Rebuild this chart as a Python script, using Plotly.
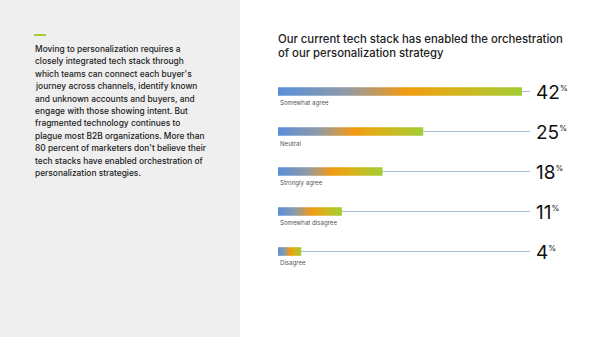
import plotly.graph_objects as go

categories = ["Somewhat agree", "Neutral", "Strongly agree", "Somewhat disagree", "Disagree"]
values = [42, 25, 18, 11, 4]
title_lines = ["Our current tech stack has enabled the orchestration", "of our personalization strategy"]
body_lines = [
    "Moving to personalization requires a",
    "closely integrated tech stack through",
    "which teams can connect each buyer's",
    "journey across channels, identify known",
    "and unknown accounts and buyers, and",
    "engage with those showing intent. But",
    "fragmented technology continues to",
    "plague most B2B organizations. More than",
    "80 percent of marketers don't believe their",
    "tech stacks have enabled orchestration of",
    "personalization strategies.",
]

W, H = 600, 337
X0_PX = 278.0
PX_PER_PCT = 244.0 / 42.0
Y0_PX = 91.5
ROW_PX = 40.0
LINE_END = (530 - X0_PX) / PX_PER_PCT
LABEL_X = (534 - X0_PX) / PX_PER_PCT
BAR_HALF = 0.108

gradient = [
    [0.0, "#5a8fdc"],
    [0.28, "#8f9aa6"],
    [0.52, "#f29a12"],
    [0.72, "#d7b31c"],
    [1.0, "#a2cd35"],
]

fig = go.Figure()

for i, (c, v) in enumerate(zip(categories, values)):
    fig.add_trace(go.Scatter(
        x=[v, LINE_END], y=[i, i], mode="lines",
        line=dict(color="#a6b9d2", width=1), hoverinfo="skip", showlegend=False))
    fig.add_trace(go.Scatter(
        x=[0, v, v, 0, 0], y=[i - BAR_HALF, i - BAR_HALF, i + BAR_HALF, i + BAR_HALF, i - BAR_HALF],
        mode="lines", line=dict(width=0), fill="toself",
        fillgradient=dict(type="horizontal", colorscale=gradient),
        hoverinfo="skip", showlegend=False))
    fig.add_annotation(x=0, y=i + 0.29, xref="x", yref="y", text=c, showarrow=False,
                       xanchor="left", yanchor="middle",
                       font=dict(family="Inter", size=6.1, color="#555555"))
    fig.add_annotation(x=LABEL_X, y=i + 0.02, xref="x", yref="y",
                       text=f"{v}<sup><span style='font-size:8px'>%</span></sup>",
                       showarrow=False, xanchor="left", yanchor="middle",
                       font=dict(family="Inter", size=19, color="#111111"))

# left panel
fig.add_shape(type="rect", xref="paper", yref="paper", x0=0, x1=240 / W, y0=0, y1=1,
              fillcolor="#efefef", line=dict(width=0), layer="below")
fig.add_shape(type="line", xref="paper", yref="paper", x0=34 / W, x1=46 / W,
              y0=1 - 35 / H, y1=1 - 35 / H, line=dict(color="#a6cf3a", width=2))

for k, line in enumerate(body_lines):
    fig.add_annotation(x=33 / W, y=1 - (49 + 12.4 * k) / H, xref="paper", yref="paper",
                       text=line, showarrow=False, align="left",
                       xanchor="left", yanchor="middle",
                       font=dict(family="Inter", size=8.4, color="#222222", weight=500))

for k, line in enumerate(title_lines):
    fig.add_annotation(x=276 / W, y=1 - (39 + 14.5 * k) / H, xref="paper", yref="paper",
                       text=line, showarrow=False, align="left",
                       xanchor="left", yanchor="middle",
                       font=dict(family="Inter", size=11.3, color="#222222", weight=500))

fig.update_layout(
    width=W, height=H, margin=dict(l=0, r=0, t=0, b=0),
    paper_bgcolor="white", plot_bgcolor="rgba(0,0,0,0)",
    xaxis=dict(range=[-X0_PX / PX_PER_PCT, (W - X0_PX) / PX_PER_PCT], visible=False, fixedrange=True),
    yaxis=dict(range=[(H - Y0_PX) / ROW_PX, -Y0_PX / ROW_PX], visible=False, fixedrange=True),
    showlegend=False,
)

fig.write_html("out.html")
